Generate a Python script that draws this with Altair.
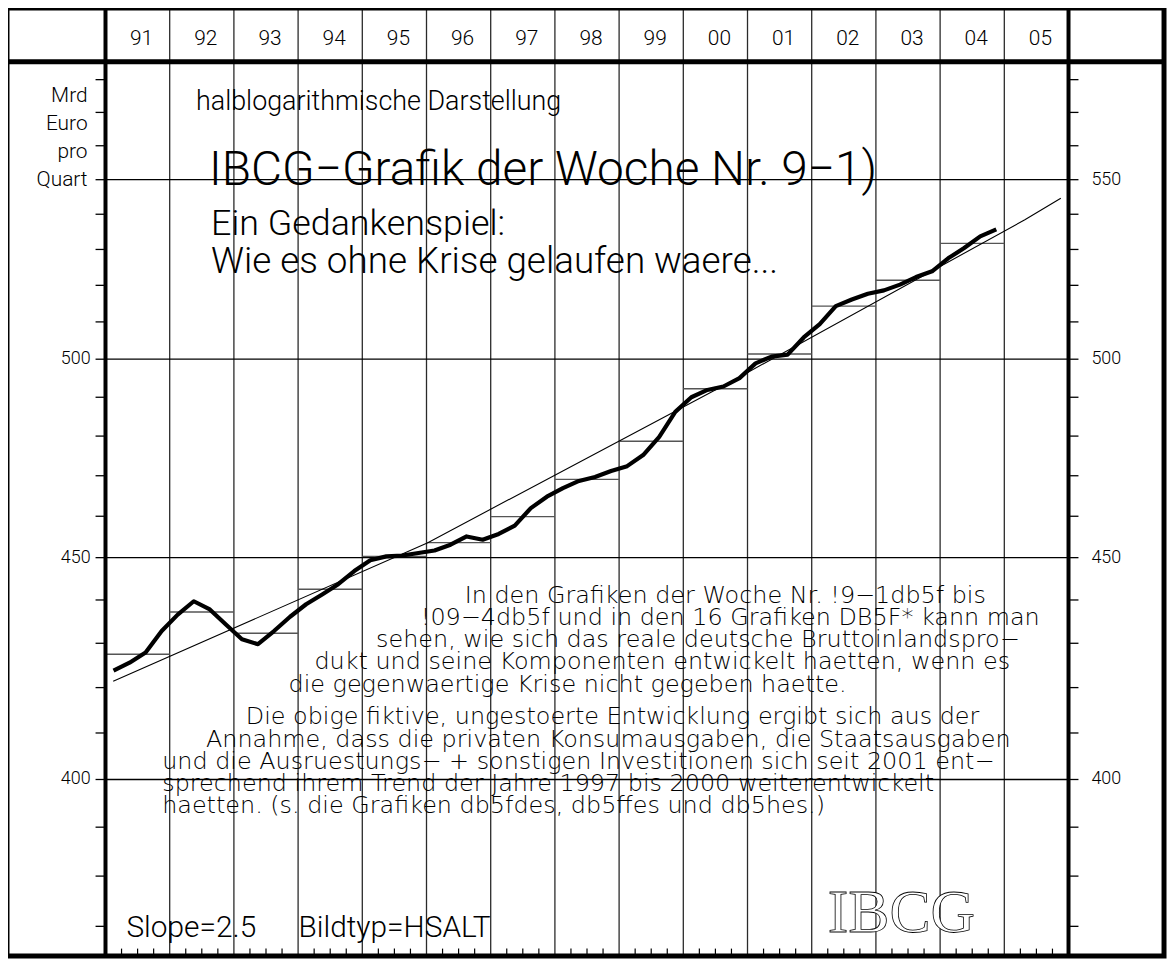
import altair as alt
import pandas as pd

# ---------------- data ----------------
year_labels = ["91", "92", "93", "94", "95", "96", "97", "98", "99", "00",
               "01", "02", "03", "04", "05"]
year_starts = list(range(1991, 2006))

# quarterly values (Mrd Euro pro Quartal), 1991Q1 .. 2004Q4
quarterly = [423.8, 425.6, 427.9, 432.8,
             436.6, 439.7, 437.8, 434.3,
             430.9, 429.8, 432.8, 436.1,
             439.0, 441.3, 443.7, 446.8,
             449.4, 450.3, 450.5, 451.1,
             451.7, 453.1, 455.1, 454.3,
             455.7, 457.7, 462.0, 464.8,
             466.9, 468.7, 469.7, 471.2,
             472.4, 475.2, 479.8, 486.2,
             490.0, 491.9, 492.8, 495.0,
             498.9, 500.7, 501.2, 505.8,
             509.4, 514.3, 516.1, 517.7,
             518.6, 520.2, 522.3, 523.9,
             527.5, 530.4, 533.7, 535.7]

# annual averages 1991 .. 2004
annual_years = list(range(1991, 2005))
annual = [427.5, 437.2, 432.3, 442.5, 450.3, 453.6, 459.9,
          469.1, 478.7, 492.2, 501.4, 514.3, 521.4, 531.7]

# trend line
trend_x = [1991.12, 1996.02, 2000.82, 2005.32, 2005.88]
trend_y = [421.4, 453.6, 494.8, 538.4, 544.6]

grid_values = [400, 450, 500, 550]
tick_values = list(range(370, 590, 10))
left_labels = [400, 450, 500]
right_labels = [400, 450, 500, 550]

para_lines = [
    "In den Grafiken der Woche Nr. !9\u22121db5f bis",
    "!09\u22124db5f und in den 16 Grafiken DB5F* kann man",
    "sehen, wie sich das reale deutsche Bruttoinlandspro\u2212",
    "dukt und seine Komponenten entwickelt haetten, wenn es",
    "die gegenwaertige Krise nicht gegeben haette.",
    "Die obige fiktive, ungestoerte Entwicklung ergibt sich aus der",
    "Annahme, dass die privaten Konsumausgaben, die Staatsausgaben",
    "und die Ausruestungs\u2212 + sonstigen Investitionen sich seit 2001 ent\u2212",
    "sprechend ihrem Trend der Jahre 1997 bis 2000 weiterentwickelt",
    "haetten. (s. die Grafiken db5fdes, db5ffes und db5hes.)",
]

# ---------------- tables ----------------
q_df = pd.DataFrame({
    "t": [1991 + i // 4 + (i % 4 + 0.5) / 4 for i in range(len(quarterly))],
    "v": quarterly,
})
a_df = pd.DataFrame({"y0": annual_years, "y1": [y + 1 for y in annual_years], "v": annual})
t_df = pd.DataFrame({"t": trend_x, "v": trend_y})
g_df = pd.DataFrame({"v": grid_values})
tk_df = pd.DataFrame({"v": tick_values})
ll_df = pd.DataFrame({"v": left_labels})
rl_df = pd.DataFrame({"v": right_labels})
yl_df = pd.DataFrame({"t": [y + 0.5 for y in year_starts], "lab": year_labels})
vl_df = pd.DataFrame({"t": year_starts[1:]})
ax_df = pd.DataFrame({"t": [1991, 2006]})
qt_df = pd.DataFrame({"t": [y + k / 4 for y in year_starts for k in (1, 2, 3)]})
one = pd.DataFrame({"a": [0]})

FONT = "Roboto"
PFONT = "DejaVu Sans"
W, H = 968, 898
TOP, BOT = -54.5, 898.5

xs = alt.Scale(domain=[1991, 2006], nice=False, zero=False)
ys = alt.Scale(type="log", domain=[364.3, 585.4], nice=False, zero=False)

X = lambda: alt.X("t:Q", scale=xs, axis=None)
Y = lambda: alt.Y("v:Q", scale=ys, axis=None)

frame = alt.Chart(one).mark_rect(fillOpacity=0, stroke="black", strokeWidth=5).encode(
    x=alt.value(-99), x2=alt.value(1064), y=alt.value(TOP), y2=alt.value(BOT))
header_sep = alt.Chart(one).mark_rule(color="black", strokeWidth=5).encode(
    x=alt.value(-99), x2=alt.value(1064), y=alt.value(-0.5))
axes_thick = alt.Chart(ax_df).mark_rule(color="black", strokeWidth=4).encode(
    x=X(), y=alt.value(TOP), y2=alt.value(BOT))
year_lines = alt.Chart(vl_df).mark_rule(color="#2a2a2a", strokeWidth=1.3).encode(
    x=X(), y=alt.value(TOP), y2=alt.value(BOT))
grid = alt.Chart(g_df).mark_rule(color="black", strokeWidth=1.3).encode(
    y=Y(), x=alt.value(0), x2=alt.value(W))
qticks = alt.Chart(qt_df).mark_rule(color="black", strokeWidth=1.2).encode(
    x=X(), y=alt.value(H), y2=alt.value(H - 7))
lticks = alt.Chart(tk_df).mark_rule(color="black", strokeWidth=1.3).encode(
    y=Y(), x=alt.value(-10), x2=alt.value(0))
rticks = alt.Chart(tk_df).mark_rule(color="black", strokeWidth=1.3).encode(
    y=Y(), x=alt.value(W), x2=alt.value(W + 10))
llabels = alt.Chart(ll_df).mark_text(font=FONT, fontWeight=300, fontSize=18, align="right",
                                     baseline="middle", color="black").encode(
    y=Y(), x=alt.value(-15), text="v:Q")
rlabels = alt.Chart(rl_df).mark_text(font=FONT, fontWeight=300, fontSize=18, align="left",
                                     baseline="middle", color="black").encode(
    y=Y(), x=alt.value(W + 23), text="v:Q")

steps = alt.Chart(a_df).mark_rule(color="#555", strokeWidth=1.4).encode(
    x=alt.X("y0:Q", scale=xs, axis=None), x2="y1:Q", y=Y())
trend = alt.Chart(t_df).mark_line(color="black", strokeWidth=1.1).encode(x=X(), y=Y())
qline = alt.Chart(q_df).mark_line(color="black", strokeWidth=4.2, strokeJoin="round").encode(
    x=X(), y=Y())

hdr = alt.Chart(yl_df).mark_text(font=FONT, fontWeight=300, fontSize=21, dx=4,
                                 baseline="middle", color="black").encode(
    x=X(), y=alt.value(-23), text="lab:N")


def txt(s, x, y, size, align="left", font=FONT, weight=300, clip=False,
        baseline="middle", **kw):
    return alt.Chart(one).mark_text(text=s, align=align, baseline=baseline, fontSize=size,
                                    font=font, fontWeight=weight, color="black",
                                    clip=clip, **kw).encode(x=alt.value(x), y=alt.value(y))


texts = [
    txt("Mrd", -18, 40, 21, align="right", baseline="alphabetic"),
    txt("Euro", -18, 68, 21, align="right", baseline="alphabetic"),
    txt("pro", -18, 96, 21, align="right", baseline="alphabetic"),
    txt("Quart", -18, 124, 21, align="right", baseline="alphabetic"),
    txt("halblogarithmische Darstellung", 91, 40, 27),
    txt("IBCG\u2212Grafik der Woche Nr. 9\u22121)", 104, 109, 48),
    txt("Ein Gedankenspiel:", 106, 163, 36),
    txt("Wie es ohne Krise gelaufen waere...", 106, 201, 37),
    txt("Slope=2.5", 21, 870, 30),
    txt("Bildtyp=HSALT", 194, 870, 30),
    txt("IBCG", 800, 855, 62, align="center", font="Liberation Serif", weight="normal",
        fill="white", stroke="black", strokeWidth=0.8),
]
para_pos = [(467, 597), (423, 619), (378, 641), (316, 663), (290, 686),
            (247, 718), (207, 741), (163, 763), (163, 786), (163, 808)]
for s, (px, py) in zip(para_lines, para_pos):
    texts.append(txt(s, px - 106, py - 60, 24, font=PFONT, weight=200, clip=True))

chart = alt.layer(
    year_lines, grid, qticks, lticks, rticks, steps, trend, qline, hdr,
    llabels, rlabels, *texts,
    header_sep, axes_thick, frame,
).properties(
    width=W, height=H,
    padding={"left": 98, "top": 52, "right": 100, "bottom": 8},
    autosize=alt.AutoSizeParams(type="none"),
    background="white",
).configure_view(stroke=None)

chart.save("out.html", embed_options={"renderer": "svg", "actions": False})
